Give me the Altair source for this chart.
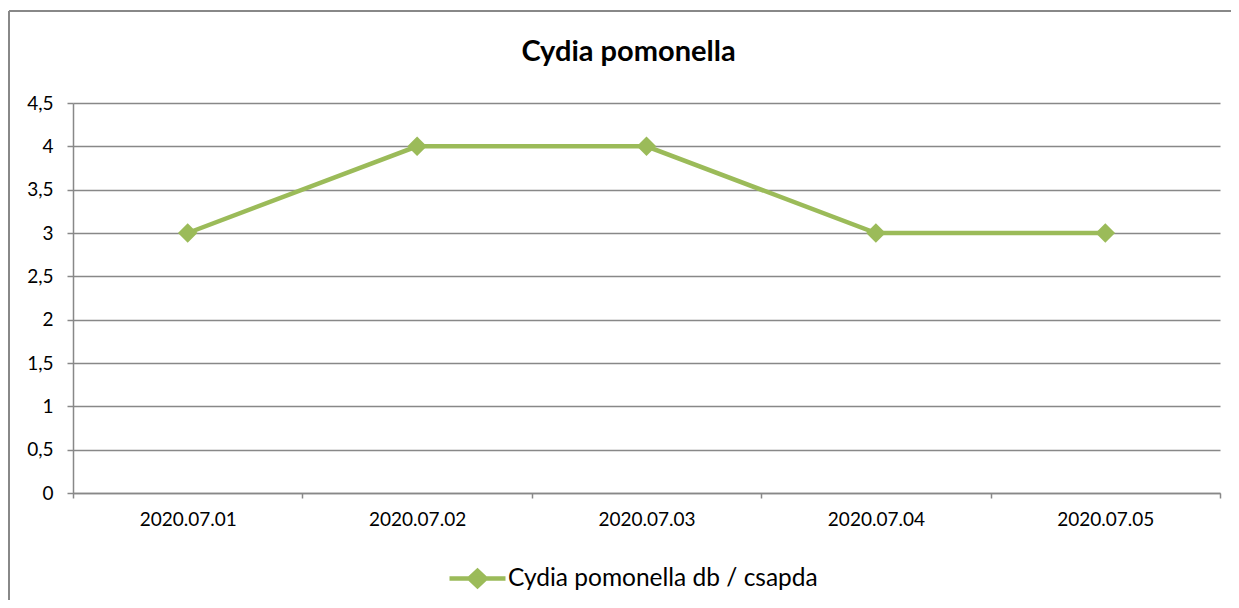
import altair as alt
import pandas as pd

dates = ["2020.07.01", "2020.07.02", "2020.07.03", "2020.07.04", "2020.07.05"]
values = [3, 4, 4, 3, 3]
series_name = "Cydia pomonella db / csapda"
y_ticks = [0, 0.5, 1, 1.5, 2, 2.5, 3, 3.5, 4, 4.5]

df = pd.DataFrame({"date": dates, "value": values, "series": [series_name] * len(dates)})

GREEN = "#9BBB59"
GRAY = "#888888"
FONT = "Lato"

legend_path = "M-1,0H1M-0.29,0L0,-0.27L0.29,0L0,0.27Z"

x_enc = alt.X(
    "date:N",
    sort=dates,
    scale=alt.Scale(type="band", paddingInner=0, paddingOuter=0),
    axis=alt.Axis(
        title=None, labelAngle=0, tickBand="extent", grid=False,
        domainColor=GRAY, domainWidth=1.5, tickColor=GRAY, tickWidth=1.5, tickSize=5,
        labelPadding=12, labelFontSize=19, labelFont=FONT, labelColor="black",
    ),
)
y_enc = alt.Y(
    "value:Q",
    scale=alt.Scale(domain=[0, 4.5], nice=False, zero=True),
    axis=alt.Axis(
        title=None, values=y_ticks,
        labelExpr="replace(format(datum.value, '~g'), '.', ',')",
        grid=True, gridColor=GRAY, gridWidth=1.5,
        domainColor=GRAY, domainWidth=1.5, tickColor=GRAY, tickWidth=1.5, tickSize=6,
        labelPadding=14, labelFontSize=19, labelFont=FONT, labelColor="black",
    ),
)
color_enc = alt.Color(
    "series:N",
    scale=alt.Scale(domain=[series_name], range=[GREEN]),
    legend=alt.Legend(
        title=None, orient="none", legendX=374, legendY=445,
        symbolType=legend_path, symbolSize=3136, symbolStrokeWidth=4.5,
        symbolFillColor=GREEN, symbolStrokeColor=GREEN, symbolOpacity=1,
        labelFontSize=24.5, labelFont=FONT, labelColor="black", labelOffset=0,
        labelLimit=600, padding=0,
    ),
)

base = alt.Chart(df)
line = base.mark_line(strokeWidth=4.5).encode(x=x_enc, y=y_enc, color=color_enc)
pts = base.mark_point(shape="diamond", filled=True, size=380, opacity=1, strokeWidth=1).encode(
    x=x_enc, y=y_enc, color=color_enc
)

frame_df = pd.DataFrame({"a": [0]})
top_border = alt.Chart(frame_df).mark_rule(color=GRAY, strokeWidth=2).encode(
    x=alt.value(-64), x2=alt.value(1180), y=alt.value(-92)
)
left_border = alt.Chart(frame_df).mark_rule(color=GRAY, strokeWidth=2).encode(
    x=alt.value(-64), y=alt.value(-92), y2=alt.value(520)
)

chart = (
    alt.layer(top_border, left_border, line, pts)
    .properties(
        width=1147, height=390,
        autosize=alt.AutoSizeParams(type="none"),
        padding={"left": 65, "top": 95, "right": 11, "bottom": 107},
        title=alt.TitleParams(
            "Cydia pomonella", anchor="middle", frame="group", dx=-18, offset=-57,
            font=FONT, fontSize=29, fontWeight="bold", color="black",
        ),
    )
    .configure_view(stroke=None)
)

chart.save("out.html", embed_options={"renderer": "svg", "actions": False})
